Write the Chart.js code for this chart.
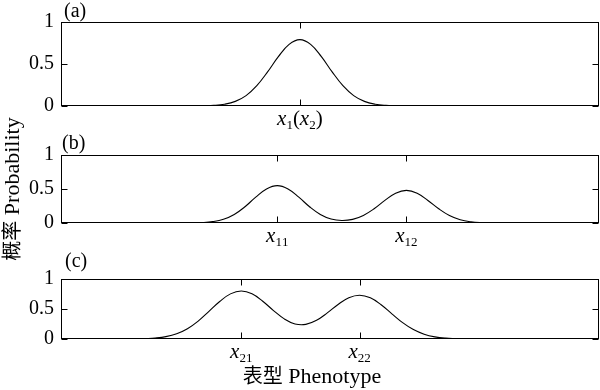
<!DOCTYPE html>
<html>
<head>
<meta charset="utf-8">
<script src="https://cdn.jsdelivr.net/npm/chart.js@4/dist/chart.umd.min.js"></script>
<style>
  body { margin: 0; background: #fff; }
  #wrap { position: relative; width: 600px; height: 390px; overflow: hidden;
          font-family: "Liberation Serif", "Noto Sans CJK SC", serif; color: #000; }
  canvas { position: absolute; left: 0; }
  .tag { position: absolute; font-size: 20px; line-height: 20px; }
  .cjk { font-size: 20px; }
  #ytitle { position: absolute; left: -88px; top: 177px; width: 200px; text-align: center;
            font-size: 22px; line-height: 24px; transform: rotate(-90deg); white-space: nowrap; }
  #xtitle { position: absolute; left: 212px; top: 365px; width: 200px; text-align: center;
            font-size: 22px; line-height: 22px; white-space: nowrap; }
</style>
</head>
<body>
<div id="wrap">
  <canvas id="chartA" width="600" height="130" style="top:0px"></canvas>
  <canvas id="chartB" width="600" height="130" style="top:130px"></canvas>
  <canvas id="chartC" width="600" height="130" style="top:260px"></canvas>
  <div class="tag" style="left:64px; top:0px">(a)</div>
  <div class="tag" style="left:62px; top:132px">(b)</div>
  <div class="tag" style="left:65px; top:250px">(c)</div>
  <div id="ytitle"><span class="cjk">概率</span> Probability</div>
  <div id="xtitle"><span class="cjk">表型</span> Phenotype</div>
</div>
<script>
// phenotype positions (0..100 along the x axis) and probabilities
const xA = [26.4, 28.4, 30.4, 32.4, 34.4, 36.4, 38.4, 40.4, 42.4, 44.4, 46.4, 48.4, 50.4, 52.4, 54.4, 56.4, 58.4, 60.4, 62.4];
const probA = [0.002, 0.007, 0.021, 0.055, 0.124, 0.242, 0.406, 0.588, 0.734, 0.790, 0.734, 0.588, 0.406, 0.242, 0.124, 0.055, 0.021, 0.007, 0.002];

const xB = [24.2, 26.2, 28.2, 30.2, 32.2, 34.2, 36.2, 38.2, 40.2, 42.2, 44.2, 46.2, 48.2, 50.2, 52.2,
            54.2, 56.2, 58.2, 60.2, 62.2, 64.2, 66.2, 68.2, 70.2, 72.2, 74.2, 76.2, 78.2, 80.2];
const probB = [0.001, 0.006, 0.020, 0.054, 0.125, 0.239, 0.380, 0.501, 0.550, 0.501, 0.380, 0.239, 0.126, 0.059, 0.037,
               0.053, 0.111, 0.209, 0.332, 0.438, 0.480, 0.438, 0.331, 0.209, 0.109, 0.047, 0.017, 0.005, 0.001];

const xC = [15.5, 17.5, 19.5, 21.5, 23.5, 25.5, 27.5, 29.5, 31.5, 33.5, 35.5, 37.5, 39.5, 41.5, 43.5,
            45.5, 47.5, 49.5, 51.5, 53.5, 55.5, 57.5, 59.5, 61.5, 63.5, 65.5, 67.5, 69.5, 71.5, 73.5];
const probC = [0.005, 0.016, 0.039, 0.087, 0.172, 0.299, 0.460, 0.625, 0.752, 0.800, 0.754, 0.630, 0.474, 0.335, 0.251,
               0.244, 0.312, 0.435, 0.576, 0.688, 0.730, 0.686, 0.571, 0.420, 0.273, 0.157, 0.080, 0.036, 0.014, 0.005];

// labelled phenotype ticks
const ticksA = [44.4];
const labelsA = ['x₁(x₂)'];
const ticksB = [40.2, 64.2];
const labelsB = ['x₁₁', 'x₁₂'];
const ticksC = [33.5, 55.5];
const labelsC = ['x₂₁', 'x₂₂'];

const yTicks = [0, 0.5, 1];

const SERIF = '"Liberation Serif", serif';

// italic x, small digits for the subscripts
function drawLabel(ctx, text, cx, baseY) {
  const parts = [];
  for (const ch of text) {
    const code = ch.charCodeAt(0);
    if (code >= 0x2080 && code <= 0x2089) {
      parts.push({ t: String(code - 0x2080), f: '13px ' + SERIF, dy: 4 });
    } else if (ch === 'x') {
      parts.push({ t: ch, f: 'italic 21px ' + SERIF, dy: 0 });
    } else {
      parts.push({ t: ch, f: '21px ' + SERIF, dy: 0 });
    }
  }
  let w = 0;
  parts.forEach(p => { ctx.font = p.f; p.w = ctx.measureText(p.t).width; w += p.w; });
  let x = cx - w / 2;
  parts.forEach(p => { ctx.font = p.f; ctx.fillText(p.t, x, baseY + p.dy); x += p.w; });
}

// box, inward tick marks and the x tick labels
const framePlugin = {
  id: 'frame',
  afterDraw(chart, args, opts) {
    const ctx = chart.ctx;
    const a = chart.chartArea;
    const xs = chart.scales.x, ys = chart.scales.y;
    const L = Math.round(a.left) + 0.5, R = Math.round(a.right) - 0.5;
    const T = Math.round(a.top) + 0.5, B = Math.round(a.bottom) - 0.5;
    ctx.save();
    ctx.strokeStyle = '#000';
    ctx.lineWidth = 1;
    ctx.strokeRect(L, T, R - L, B - T);
    ctx.beginPath();
    opts.ticks.forEach(v => {
      const px = Math.round(xs.getPixelForValue(v)) + 0.5;
      ctx.moveTo(px, B); ctx.lineTo(px, B - 6);
      ctx.moveTo(px, T); ctx.lineTo(px, T + 6);
    });
    yTicks.forEach(v => {
      const py = Math.round(ys.getPixelForValue(v)) + 0.5;
      ctx.moveTo(L, py); ctx.lineTo(L + 6, py);
      ctx.moveTo(R, py); ctx.lineTo(R - 6, py);
    });
    ctx.stroke();
    ctx.fillStyle = '#000';
    ctx.textBaseline = 'alphabetic';
    opts.ticks.forEach((v, i) => drawLabel(ctx, opts.labels[i], xs.getPixelForValue(v), a.bottom + 19));
    ctx.restore();
  }
};

function makePanel(id, xs, ys, ticks, labels, padTop, padBottom) {
  return new Chart(document.getElementById(id).getContext('2d'), {
    type: 'line',
    data: {
      datasets: [{
        data: xs.map((v, i) => ({ x: v, y: ys[i] })),
        borderColor: '#000',
        borderWidth: 1.1,
        pointRadius: 0,
        fill: false,
        tension: 0.4
      }]
    },
    options: {
      responsive: false,
      animation: false,
      events: [],
      layout: { padding: { top: padTop, bottom: padBottom, left: 0, right: 1 } },
      plugins: {
        legend: { display: false },
        tooltip: { enabled: false },
        frame: { ticks: ticks, labels: labels }
      },
      scales: {
        x: {
          type: 'linear', min: 0, max: 100,
          grid: { display: false, drawTicks: false },
          border: { display: false },
          ticks: { display: false },
          afterFit: s => { s.height = 0; }
        },
        y: {
          min: 0, max: 1,
          afterBuildTicks: s => { s.ticks = yTicks.map(v => ({ value: v })); },
          grid: { display: false, drawTicks: false },
          border: { display: false },
          ticks: { color: '#000', padding: 7, font: { family: SERIF, size: 20 },
                   callback: v => String(v) },
          afterFit: s => { s.width = 61; }
        }
      }
    },
    plugins: [framePlugin]
  });
}

makePanel('chartA', xA, probA, ticksA, labelsA, 22, 24);
makePanel('chartB', xB, probB, ticksB, labelsB, 25, 37);
makePanel('chartC', xC, probC, ticksC, labelsC, 12, 51);
</script>
</body>
</html>
